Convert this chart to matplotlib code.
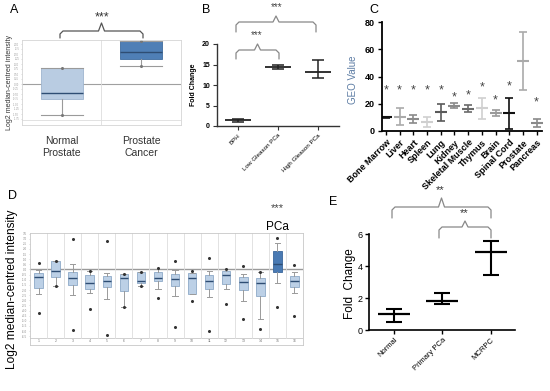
import matplotlib
matplotlib.use("Agg")
import matplotlib.pyplot as plt
from matplotlib.lines import Line2D
import numpy as np

plt.rcParams['font.family'] = ['Liberation Sans', 'DejaVu Sans']

# ---------------- data ----------------
# Panel A (Oncomine box plot)
a_groups = ["Normal\nProstate", "Prostate\nCancer"]
a_q1 = [-0.75, 1.25]
a_med = [-0.45, 1.60]
a_q3 = [0.80, 2.15]
a_lo = [-1.55, 0.90]
a_hi = [0.80, 2.15]

# Panel B
b_groups = ["BPH", "Low Gleason PCa", "High Gleason PCa"]
b_mean = [1.4, 14.4, 13.1]
b_low = [1.0, 14.0, 11.8]
b_high = [1.8, 14.9, 16.0]

# Panel C
c_tissues = ["Bone Marrow", "Liver", "Heart", "Spleen", "Lung", "Kidney",
             "Skeletal Muscle", "Thymus", "Brain", "Spinal Cord", "Prostate", "Pancreas"]
c_mean = [10.0, 10.6, 8.9, 6.6, 13.8, 18.6, 16.3, 17.0, 13.1, 13.2, 51.3, 5.9]
c_low = [9.5, 4.3, 6.0, 2.9, 7.3, 17.1, 13.9, 9.0, 10.8, 1.7, 29.8, 2.9]
c_high = [10.5, 16.8, 12.0, 10.3, 19.6, 20.5, 18.8, 24.4, 15.6, 24.4, 72.6, 9.0]
c_star = [29.8, 29.8, 29.8, 29.8, 29.8, 24.4, 26.0, 31.8, 22.5, 32.8, None, 21.3]
c_colors = ["#111111", "#aaaaaa", "#8a8a8a", "#cfcfcf", "#5a5a5a", "#8a8a8a",
            "#6a6a6a", "#d0d0d0", "#9a9a9a", "#111111", "#aaaaaa", "#8a8a8a"]

# Panel D (16 Oncomine groups)
d_q3 = [-0.32, 0.81, -0.26, -0.55, -0.68, -0.42, -0.23, -0.29, -0.42, -0.39, -0.58, -0.13, -0.78, -0.87, 1.84, -0.61]
d_med = [-0.78, -0.13, -0.84, -1.29, -1.13, -0.84, -1.10, -0.84, -0.97, -0.81, -1.17, -0.49, -1.26, -1.33, 0.58, -1.10]
d_q1 = [-1.78, -0.74, -1.52, -1.94, -1.72, -2.07, -1.36, -1.13, -1.59, -2.40, -1.94, -1.39, -2.04, -2.62, -0.29, -1.72]
d_hi = [-0.06, 0.81, 0.52, -0.13, -0.32, -0.42, -0.23, 0.06, -0.03, -0.39, -0.13, 0.03, -0.42, -0.29, 2.59, -0.26]
d_lo = [-2.40, -1.59, -2.49, -2.33, -2.85, -3.62, -1.59, -1.94, -2.56, -2.40, -2.65, -1.94, -3.07, -4.82, -1.36, -2.27]
d_out_hi = [0.65, 0.80, 3.00, -0.13, 2.75, -0.42, -0.20, 0.16, 0.87, -0.13, 1.07, 0.03, 0.32, -0.29, 3.07, 0.39]
d_out_lo = [-4.27, -1.59, -5.92, -3.88, -6.38, -3.62, -1.60, -2.78, -5.57, -3.07, -5.99, -3.40, -4.79, -5.79, -3.66, -4.53]

# Panel E
e_groups = ["Normal", "Primary PCa", "MCRPC"]
e_mean = [1.00, 1.81, 4.86]
e_low = [0.48, 1.60, 3.44]
e_high = [1.29, 2.33, 5.56]

# ---------------- figure ----------------
W, H = 550, 391
fig = plt.figure(figsize=(W / 100, H / 100), dpi=100)


def px_axes(x0, y0, x1, y1):
    return fig.add_axes([x0 / W, 1 - y1 / H, (x1 - x0) / W, (y1 - y0) / H])


def ftext(x, y, s, **kw):
    fig.text(x / W, 1 - y / H, s, **kw)


def bracket(x0, x1, yh, ybot, color, lw=1.0, peak=5):
    xc = (x0 + x1) / 2
    pts = [(x0, ybot), (x0, yh + 3), (x0 + 3, yh), (xc - 3, yh), (xc, yh - peak),
           (xc + 3, yh), (x1 - 3, yh), (x1, yh + 3), (x1, ybot)]
    fig.add_artist(Line2D([p[0] / W for p in pts], [1 - p[1] / H for p in pts],
                          color=color, lw=lw, solid_capstyle='round', solid_joinstyle='round'))


# ---------------- Panel A ----------------
axA = px_axes(22, 40, 181, 125)
statsA = []
for i in range(2):
    statsA.append(dict(med=a_med[i], q1=a_q1[i], q3=a_q3[i], whislo=a_lo[i], whishi=a_hi[i], fliers=[]))
boxA = axA.bxp(statsA, positions=[1, 2], widths=0.53, patch_artist=True, capwidths=0.53,
               boxprops=dict(linewidth=0.6),
               medianprops=dict(color="#2e4d73", linewidth=1.0),
               whiskerprops=dict(color="#9a9a9a", linewidth=0.8),
               capprops=dict(color="#9a9a9a", linewidth=0.8))
for patch, fc, ec in zip(boxA['boxes'], ["#b9cce2", "#4f7fb6"], ["#9fb5cf", "#3f6c9f"]):
    patch.set_facecolor(fc)
    patch.set_edgecolor(ec)
axA.plot([1, 1, 2, 2], [a_lo[0], a_hi[0], a_lo[1], a_hi[1]], 'o', ms=1.2, color="#777777")
axA.axhline(0, color="#a0a0a0", lw=0.8, zorder=0)
axA.axhline(-1.8, color="#dddddd", lw=0.6, zorder=0)
axA.axvline(1.5, color="#dddddd", lw=0.6, zorder=0)
axA.set_xlim(0.5, 2.5)
axA.set_ylim(-2.05, 2.2)
ticksA = np.arange(-1.75, 2.01, 0.25)
axA.set_yticks(ticksA)
axA.set_yticklabels([f"{t:.2f}" for t in ticksA], fontsize=1.8, color="#999999")
axA.tick_params(axis='y', length=1, width=0.4, color="#bbbbbb", pad=1)
axA.set_xticks([1, 2])
axA.set_xticklabels(a_groups, fontsize=7.5, color="#333333", linespacing=1.2)
axA.tick_params(axis='x', length=0, pad=8)
for s in axA.spines.values():
    s.set_color("#d5d5d5")
    s.set_linewidth(0.6)
ftext(10, 82, "Log2 median-centred intensity", fontsize=5, rotation=90, ha='center', va='center',
      color="#333333")
bracket(60, 143, 31, 38, "#555555", lw=0.9, peak=8)
ftext(102, 17, "***", fontsize=9, ha='center', va='center', color="#333333")
ftext(10, 10, "A", fontsize=9, ha='left', va='center')

# ---------------- Panel B ----------------
axB = px_axes(217, 44, 339, 126)
xB = np.arange(1, 4)
axB.errorbar(xB, b_mean, yerr=[np.array(b_mean) - np.array(b_low), np.array(b_high) - np.array(b_mean)],
             fmt='none', ecolor='#222222', elinewidth=1.1, capsize=4.5, capthick=1.1)
axB.plot(xB, b_mean, linestyle='none', marker='_', ms=19, mew=1.3, color='#222222')
axB.set_xlim(0.47, 3.53)
axB.set_ylim(0, 20)
axB.set_yticks([0, 5, 10, 15, 20])
axB.set_yticklabels(["0", "5", "10", "15", "20"], fontsize=5, fontweight='bold')
axB.set_xticks(xB)
axB.set_xticklabels(b_groups, fontsize=4.5, rotation=45, ha='right', rotation_mode='anchor')
axB.tick_params(length=3, width=0.8, pad=2, color='#333333')
axB.spines['top'].set_visible(False)
axB.spines['right'].set_visible(False)
for s in ['left', 'bottom']:
    axB.spines[s].set_linewidth(1.0)
    axB.spines[s].set_color('#333333')
axB.set_ylabel("Fold Change", fontsize=5, fontweight='bold', labelpad=4)
bracket(236, 279, 50, 59, "#888888", lw=0.9, peak=6)
bracket(236, 316, 22, 32, "#888888", lw=0.9, peak=6)
ftext(257, 35, "***", fontsize=7, ha='center', va='center', color="#444444")
ftext(277, 7, "***", fontsize=7, ha='center', va='center', color="#444444")
ftext(202, 10, "B", fontsize=9, ha='left', va='center')

# ---------------- Panel C ----------------
axC = px_axes(382, 22, 542, 131)
xC = np.arange(len(c_tissues))
for i in range(len(c_tissues)):
    axC.errorbar(xC[i], c_mean[i], yerr=[[c_mean[i] - c_low[i]], [c_high[i] - c_mean[i]]],
                 fmt='none', ecolor=c_colors[i], elinewidth=1.2, capsize=2.6, capthick=1.2)
    axC.plot(xC[i], c_mean[i], linestyle='none', marker='_', ms=8.5, mew=1.5, color=c_colors[i])
    if c_star[i] is not None:
        axC.text(xC[i], c_star[i], "*", fontsize=9, ha='center', va='center', color="#444444")
axC.set_xlim(-0.29, 11.39)
axC.set_ylim(0, 80)
axC.set_yticks([0, 20, 40, 60, 80])
axC.set_yticklabels(["0", "20", "40", "60", "80"], fontsize=6.5, fontweight='bold')
axC.set_xticks(xC)
axC.set_xticklabels(c_tissues, fontsize=6.5, fontweight='bold', rotation=45, ha='right',
                    rotation_mode='anchor')
axC.tick_params(length=3, width=1.0, pad=2)
axC.spines['top'].set_visible(False)
axC.spines['right'].set_visible(False)
for s in ['left', 'bottom']:
    axC.spines[s].set_linewidth(1.3)
ftext(353, 80, "GEO Value", fontsize=7, rotation=90, ha='center', va='center', color="#5b7ba3")
ftext(369, 10, "C", fontsize=9, ha='left', va='center')

# ---------------- Panel D ----------------
axD = px_axes(30, 233, 303, 345)
statsD = []
for i in range(16):
    statsD.append(dict(med=d_med[i], q1=d_q1[i], q3=d_q3[i], whislo=d_lo[i], whishi=d_hi[i], fliers=[]))
xD = np.arange(1, 17)
boxD = axD.bxp(statsD, positions=xD, widths=0.5, patch_artist=True, capwidths=0.3,
               boxprops=dict(linewidth=0.6),
               medianprops=dict(color="#2e4d73", linewidth=1.0),
               whiskerprops=dict(color="#9a9a9a", linewidth=0.7),
               capprops=dict(color="#9a9a9a", linewidth=0.7))
for i, patch in enumerate(boxD['boxes']):
    if i == 14:
        patch.set_facecolor("#4a7ab3")
        patch.set_edgecolor("#3a679c")
    else:
        patch.set_facecolor("#bcd0e6")
        patch.set_edgecolor("#8ea9c8")
axD.plot(xD, d_out_hi, 'o', ms=1.2, color="#333333", linestyle='none')
axD.plot(xD, d_out_lo, 'o', ms=1.2, color="#333333", linestyle='none')
axD.axhline(0, color="#9a9a9a", lw=1.0, zorder=0)
axD.axhline(-6.67, color="#c8c8c8", lw=0.6, zorder=0)
for xv in np.arange(1.5, 16.5, 1.0):
    axD.plot([xv, xv], [-6.67, 3.6], color="#dddddd", lw=0.6, zorder=0)
axD.set_xlim(0.5, 16.5)
axD.set_ylim(-7.35, 3.55)
ticksD = np.arange(-6.5, 3.51, 0.5)
axD.set_yticks(ticksD)
axD.set_yticklabels([f"{t:.1f}" for t in ticksD], fontsize=2.2, color="#888888")
axD.tick_params(axis='y', length=1, width=0.4, color="#bbbbbb", pad=1)
axD.set_xticks([])
for i in xD:
    axD.text(i, -7.0, str(i), fontsize=2.5, ha='center', va='center', color="#777777")
for s in axD.spines.values():
    s.set_color("#c8c8c8")
    s.set_linewidth(0.6)
ftext(12, 289, "Log2 median-centred intensity", fontsize=8.6, rotation=90, ha='center', va='center')
ftext(277, 208, "***", fontsize=8, ha='center', va='center', color="#444444")
ftext(277, 227, "PCa", fontsize=8.5, ha='center', va='center')
ftext(8, 196, "D", fontsize=9, ha='left', va='center')

# ---------------- Panel E ----------------
axE = px_axes(369, 234, 515, 330)
xE = np.arange(1, 4)
axE.errorbar(xE, e_mean, yerr=[np.array(e_mean) - np.array(e_low), np.array(e_high) - np.array(e_mean)],
             fmt='none', ecolor='black', elinewidth=1.5, capsize=5.5, capthick=1.5)
axE.plot(xE, e_mean, linestyle='none', marker='_', ms=23, mew=1.6, color='black')
axE.set_xlim(0.485, 3.495)
axE.set_ylim(0, 6)
axE.set_yticks([0, 2, 4, 6])
axE.set_yticklabels(["0", "2", "4", "6"], fontsize=6.5)
axE.set_xticks(xE)
axE.set_xticklabels(e_groups, fontsize=5.5, rotation=45, ha='right', rotation_mode='anchor')
axE.tick_params(length=3, width=1.0, pad=1.5)
axE.spines['top'].set_visible(False)
axE.spines['right'].set_visible(False)
for s in ['left', 'bottom']:
    axE.spines[s].set_linewidth(1.2)
ftext(350, 284, "Fold  Change", fontsize=8.5, rotation=90, ha='center', va='center')
bracket(392, 491, 207, 218, "#888888", lw=0.9, peak=9)
bracket(439, 491, 227, 238, "#888888", lw=0.9, peak=6)
ftext(440, 190, "**", fontsize=8, ha='center', va='center', color="#333333")
ftext(464, 213, "**", fontsize=8, ha='center', va='center', color="#333333")
ftext(329, 202, "E", fontsize=9, ha='left', va='center')

fig.savefig("out.png", dpi=100)
